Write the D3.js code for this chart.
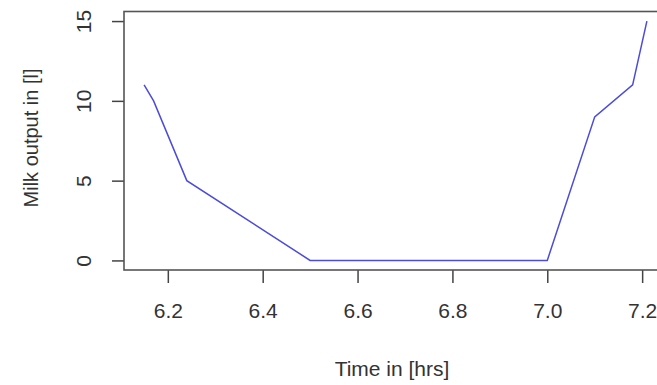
<!DOCTYPE html>
<html>
<head>
<meta charset="utf-8">
<script src="https://cdn.jsdelivr.net/npm/d3@7"></script>
<style>
    body { margin: 0; background: #fff; }
    text { font-family: "Liberation Sans", Arial, sans-serif; fill: #222; }
</style>
</head>
<body>
<div id="chart"></div>
<script>
// DATA
var timeHrs = [6.15, 6.17, 6.24, 6.5, 7.0, 7.1, 7.18, 7.21];
var milkL = [11, 10, 5, 0, 0, 9, 11, 15];
var xTicks = [6.2, 6.4, 6.6, 6.8, 7.0, 7.2];
var yTicks = [0, 5, 10, 15];

var width = 657, height = 385;

var svg = d3.select('#chart').append('svg')
    .attr('width', width)
    .attr('height', height);

// R style 4% padding around the data range
var xPad = (d3.max(timeHrs) - d3.min(timeHrs)) * 0.04;
var yPad = (d3.max(milkL) - d3.min(milkL)) * 0.04;

var x = d3.scaleLinear()
    .domain([d3.min(timeHrs) - xPad, d3.max(timeHrs) + xPad])
    .range([124, 667]);

var y = d3.scaleLinear()
    .domain([d3.min(milkL) - yPad, d3.max(milkL) + yPad])
    .range([270, 11.5]);

// x axis
var xAxis = svg.append('g')
    .attr('transform', 'translate(0,' + y.range()[0] + ')')
    .call(d3.axisBottom(x).tickValues(xTicks).tickSize(13).tickPadding(20).tickFormat(d3.format('.1f')));

// y axis, labels turned like R does
var yAxis = svg.append('g')
    .attr('transform', 'translate(' + x.range()[0] + ',0)')
    .call(d3.axisLeft(y).tickValues(yTicks).tickSize(12).tickFormat(d3.format('d')));

yAxis.selectAll('.tick text')
    .attr('x', null).attr('dy', null)
    .attr('transform', 'translate(-33,0) rotate(-90)')
    .attr('text-anchor', 'middle');

svg.selectAll('.domain').remove();
svg.selectAll('.tick line').attr('stroke', '#444').attr('stroke-width', 1.5);
svg.selectAll('.tick text').attr('font-size', 21).style('fill', '#333');

// box around the plot
svg.append('rect')
    .attr('x', x.range()[0])
    .attr('y', y.range()[1])
    .attr('width', x.range()[1] - x.range()[0])
    .attr('height', y.range()[0] - y.range()[1])
    .attr('fill', 'none')
    .attr('stroke', '#555')
    .attr('stroke-width', 1.6);

// the milk line
var line = d3.line()
    .x(function (d, i) { return x(timeHrs[i]); })
    .y(function (d) { return y(d); });

svg.append('path')
    .datum(milkL)
    .attr('d', line)
    .attr('fill', 'none')
    .attr('stroke', '#4b4bdc')
    .attr('stroke-width', 1.5);

// axis titles
svg.append('text')
    .attr('x', 392)
    .attr('y', 376)
    .attr('text-anchor', 'middle')
    .attr('font-size', 21)
    .style('fill', '#333')
    .text('Time in [hrs]');

svg.append('text')
    .attr('transform', 'translate(38,138) rotate(-90)')
    .attr('text-anchor', 'middle')
    .attr('font-size', 20)
    .style('fill', '#333')
    .text('Milk output in [l]');
</script>
</body>
</html>
